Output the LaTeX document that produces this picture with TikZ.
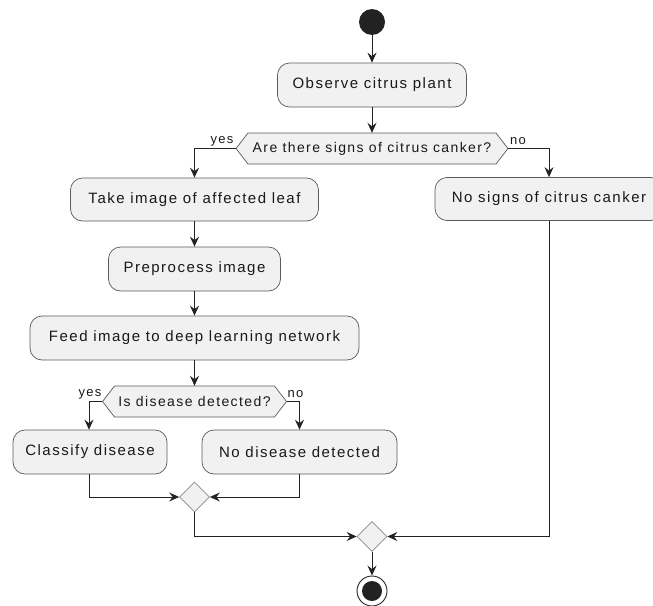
\documentclass[tikz,border=0pt]{standalone}
\usepackage{fontspec}
\setmainfont{Liberation Sans}[LetterSpace=10]
\usetikzlibrary{arrows.meta,calc,shapes.geometric}
\definecolor{boxfill}{HTML}{F1F1F1}
\definecolor{boxline}{HTML}{5A5A5A}
\definecolor{dmline}{HTML}{8A8A8A}
\definecolor{conncol}{HTML}{222222}
\newcommand\hexnode[6]{%
  \path[draw=boxline,fill=boxfill,line width=0.7pt] (#2-#4,#3) -- (#2-#4+12,#3-#5) -- (#2+#4-12,#3-#5) -- (#2+#4,#3) -- (#2+#4-12,#3+#5) -- (#2-#4+12,#3+#5) -- cycle;
  \node[hextxt, minimum width=2*#4, minimum height=2*#5, inner sep=0pt] (#1) at (#2,#3) {#6};}
\begin{document}
\begin{tikzpicture}[x=1pt,y=-1pt,
  txt/.style={font=\fontsize{15}{18}\selectfont, text=black!90},
  hextxt/.style={font=\fontsize{14}{17}\selectfont, text=black!90},
  act/.style={txt, draw=boxline, fill=boxfill, rounded corners=12pt, line width=0.7pt, minimum height=44pt, inner sep=0pt},
  merge/.style={diamond, draw=dmline, fill=boxfill, line width=0.7pt, minimum width=30pt, minimum height=30pt, inner sep=0pt, aspect=1},
  conn/.style={draw=conncol, line width=0.9pt, -{Stealth[length=10pt,width=9pt,inset=3.5pt]}},
  lbl/.style={font=\fontsize{13}{15}\selectfont, text=black!90, inner sep=0pt}]
\useasboundingbox (0,0) rectangle (653,605);
\clip (0,0) rectangle (653,605);
\node[circle, fill=conncol, minimum size=26pt, inner sep=0pt] (start) at (372,22) {};
\node[act, minimum width=189pt] (obs) at (372,85) {Observe citrus plant};
\hexnode{d1}{372}{148.5}{136}{15.5}{Are there signs of citrus canker?}
\node[act, minimum width=248pt, minimum height=43pt] (take) at (194.5,199.5) {Take image of affected leaf};
\node[act, minimum width=228pt, minimum height=43pt] (nosigns) at (549,199) {No signs of citrus canker};
\node[act, minimum width=172pt] (pre) at (194.5,269) {Preprocess image};
\node[act, minimum width=329pt] (feed) at (194.5,338) {Feed image to deep learning network};
\hexnode{d2}{194.5}{401.5}{92}{15.5}{Is disease detected?}
\node[act, minimum width=154pt] (cls) at (90,452) {Classify disease};
\node[act, minimum width=195pt] (nod) at (299.5,452) {No disease detected};
\node[merge] (m1) at (194.5,497) {};
\node[merge] (m2) at (372,536.5) {};
\node[circle, draw=conncol, fill=white, line width=0.9pt, minimum size=30pt, inner sep=0pt] (end) at (372,591) {};
\node[circle, fill=conncol, minimum size=20pt, inner sep=0pt] at (end.center) {};
\node[lbl] (y1) at (222,141) {yes};
\node[lbl] (n1) at (518,141) {no};
\node[lbl] (y2) at (90,394.5) {yes};
\node[lbl] (n2) at (295.5,394.5) {no};
\draw[conn] (start) -- (obs);
\draw[conn] (obs) -- (d1);
\draw[conn] (d1.west) -| (take.north);
\draw[conn] (d1.east) -| (nosigns.north);
\draw[conn] (take) -- (pre);
\draw[conn] (pre) -- (feed);
\draw[conn] (feed) -- (d2);
\draw[conn] (d2.west) -| ([xshift=-1pt]cls.north);
\draw[conn] (d2.east) -| (nod.north);
\draw[conn] ([xshift=-1pt]cls.south) |- (m1.west);
\draw[conn] (nod.south) |- (m1.east);
\draw[conn] (m1.south) |- (m2.west);
\draw[conn] (nosigns.south) |- (m2.east);
\draw[conn] (m2) -- (end);
\end{tikzpicture}
\end{document}
